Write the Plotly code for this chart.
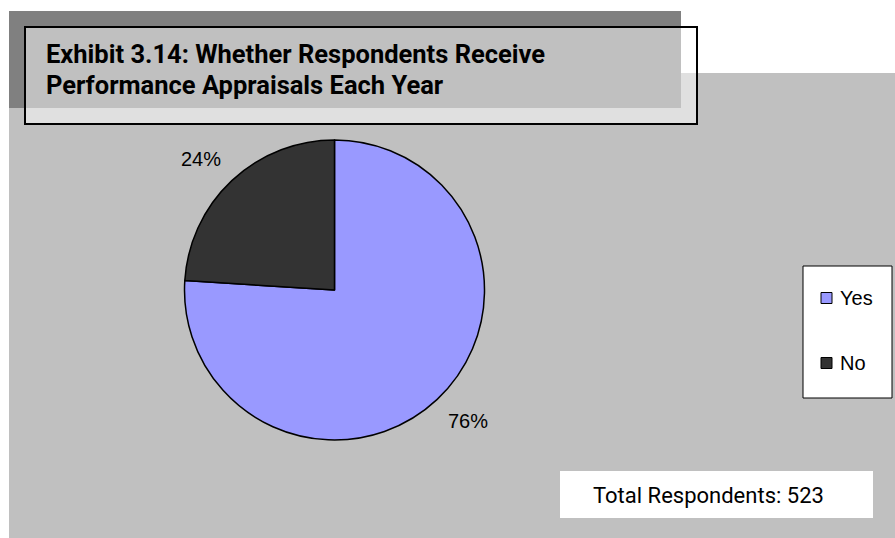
import math
import plotly.graph_objects as go

# Survey answers (share of 523 respondents, percent)
labels = ["Yes", "No"]
values = [76, 24]
colors = ["#9999FF", "#333333"]
title_lines = ["Exhibit 3.14: Whether Respondents Receive", "Performance Appraisals Each Year"]
note_text = "Total Respondents: 523"

W, H = 895, 538
NARROW = "Roboto, Liberation Sans, Arial, sans-serif"
ARIAL = "Liberation Sans, Arial, sans-serif"

# pie placement in pixels
cx, cy, r = 334.5, 290.0, 150.0


def px_x(x):
    return x / W


def px_y(y):
    return 1 - y / H


fig = go.Figure(go.Pie(
    labels=labels,
    values=values,
    marker=dict(colors=colors, line=dict(color="black", width=1.5)),
    sort=False,
    direction="clockwise",
    rotation=0,
    textinfo="none",
    hoverinfo="label+percent",
    showlegend=False,
    domain=dict(x=[px_x(cx - r), px_x(cx + r)], y=[px_y(cy + r), px_y(cy - r)]),
))

shapes = [
    # chart area background
    dict(type="rect", xref="paper", yref="paper", x0=px_x(9), x1=1, y0=0, y1=px_y(73),
         fillcolor="#C0C0C0", line=dict(width=0), layer="below"),
    # title shadow band
    dict(type="rect", xref="paper", yref="paper", x0=px_x(9), x1=px_x(681), y0=px_y(108), y1=px_y(11),
         fillcolor="#808080", line=dict(width=0), layer="below"),
    # title frame (half-transparent white)
    dict(type="rect", xref="paper", yref="paper", x0=px_x(25), x1=px_x(697), y0=px_y(124), y1=px_y(27),
         fillcolor="rgba(255,255,255,0.5)", line=dict(color="black", width=2), layer="below"),
    # respondents note box
    dict(type="rect", xref="paper", yref="paper", x0=px_x(560), x1=px_x(873), y0=px_y(518), y1=px_y(471),
         fillcolor="white", line=dict(width=0), layer="below"),
    # legend frame
    dict(type="rect", xref="paper", yref="paper", x0=px_x(803), x1=px_x(892), y0=px_y(398), y1=px_y(266),
         fillcolor="white", line=dict(color="black", width=1), layer="below"),
]

annotations = [
    dict(x=px_x(708), y=px_y(495), xref="paper", yref="paper", xanchor="center", yanchor="middle",
         showarrow=False, text=note_text, font=dict(family=NARROW, size=22, color="black")),
]

# two-line title, one annotation per line
for line, ty in zip(title_lines, [54, 85]):
    annotations.append(dict(x=px_x(44), y=px_y(ty), xref="paper", yref="paper",
                            xanchor="left", yanchor="middle", align="left", showarrow=False,
                            text="<b>" + line + "</b>",
                            font=dict(family=NARROW, size=25.5, color="black")))

# percentage labels placed outside each slice, at the slice's mid-angle
total = sum(values)
start = 0.0
for v in values:
    mid = (start + v / 2) / total * 2 * math.pi
    start += v
    lx = cx + 1.3 * r * math.sin(mid)
    ly = cy - 1.2 * r * math.cos(mid)
    annotations.append(dict(x=px_x(lx), y=px_y(ly), xref="paper", yref="paper",
                            xanchor="center", yanchor="middle", showarrow=False,
                            text=f"{round(v / total * 100)}%",
                            font=dict(family=ARIAL, size=20, color="black")))

# legend entries
legend_y = [298, 363]
for lab, col, ly in zip(labels, colors, legend_y):
    shapes.append(dict(type="rect", xref="paper", yref="paper",
                       x0=px_x(821), x1=px_x(832), y0=px_y(ly + 5.5), y1=px_y(ly - 5.5),
                       fillcolor=col, line=dict(color="black", width=1)))
    annotations.append(dict(x=px_x(838), y=px_y(ly), xref="paper", yref="paper",
                            xanchor="left", yanchor="middle", showarrow=False, text=lab,
                            font=dict(family=ARIAL, size=20, color="black")))

fig.update_layout(
    width=W, height=H,
    margin=dict(l=0, r=0, t=0, b=0),
    paper_bgcolor="white",
    plot_bgcolor="white",
    shapes=shapes,
    annotations=annotations,
)

fig.write_html("out.html")
